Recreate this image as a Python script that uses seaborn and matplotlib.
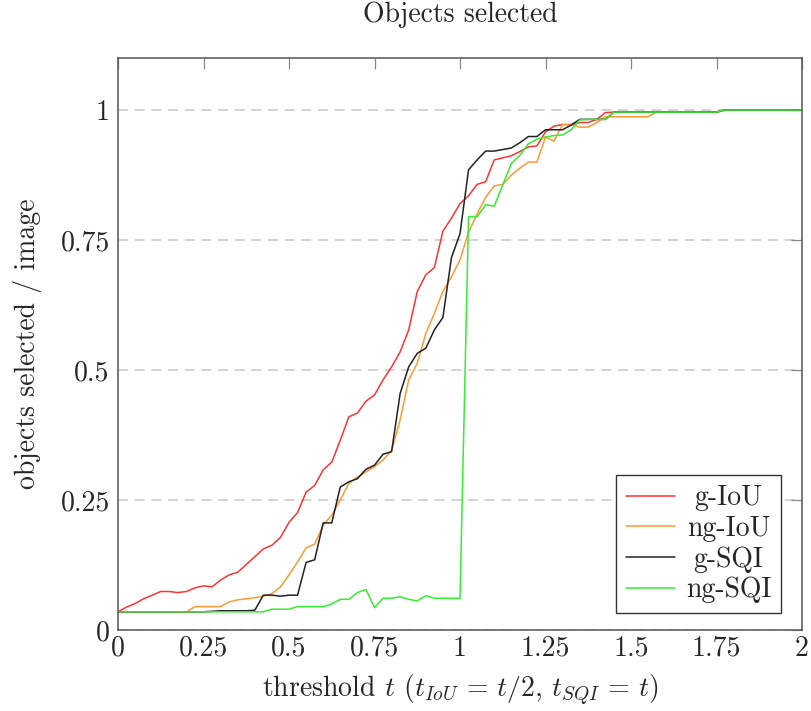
import numpy as np
import pandas as pd
import matplotlib
matplotlib.use("Agg")
import matplotlib.pyplot as plt
import seaborn as sns

# threshold grid (step 0.025, 0 .. 2)
thresholds = np.round(np.arange(81) * 0.025, 3)

g_iou = [0.035, 0.044, 0.051, 0.060, 0.067, 0.074, 0.074, 0.072, 0.074, 0.081,
         0.085, 0.083, 0.096, 0.106, 0.111, 0.126, 0.141, 0.156, 0.163, 0.178,
         0.207, 0.226, 0.265, 0.278, 0.308, 0.323, 0.365, 0.410, 0.417, 0.440,
         0.452, 0.481, 0.506, 0.535, 0.577, 0.651, 0.683, 0.697, 0.767, 0.792,
         0.820, 0.835, 0.857, 0.862, 0.904, 0.908, 0.912, 0.920, 0.929, 0.931,
         0.958, 0.969, 0.972, 0.972, 0.976, 0.976, 0.982, 0.995, 0.996, 0.996,
         0.996, 0.996, 0.996, 0.996, 0.996, 0.996, 0.996, 0.996, 0.996, 0.996,
         0.996, 1.0, 1.0, 1.0, 1.0, 1.0, 1.0, 1.0, 1.0, 1.0, 1.0]

ng_iou = [0.035, 0.035, 0.035, 0.035, 0.035, 0.035, 0.035, 0.035, 0.035, 0.045,
          0.045, 0.045, 0.045, 0.054, 0.058, 0.060, 0.062, 0.065, 0.070, 0.083,
          0.106, 0.131, 0.158, 0.165, 0.202, 0.221, 0.250, 0.282, 0.294, 0.304,
          0.314, 0.327, 0.345, 0.404, 0.481, 0.513, 0.570, 0.609, 0.651, 0.679,
          0.712, 0.765, 0.800, 0.832, 0.854, 0.857, 0.875, 0.888, 0.900, 0.900,
          0.948, 0.940, 0.972, 0.972, 0.967, 0.967, 0.976, 0.987, 0.987, 0.987,
          0.987, 0.987, 0.987, 0.996, 0.996, 0.996, 0.996, 0.996, 0.996, 0.996,
          0.996, 1.0, 1.0, 1.0, 1.0, 1.0, 1.0, 1.0, 1.0, 1.0, 1.0]

g_sqi = [0.035, 0.035, 0.035, 0.035, 0.035, 0.035, 0.035, 0.035, 0.035, 0.035,
         0.035, 0.036, 0.037, 0.037, 0.037, 0.037, 0.038, 0.067, 0.067, 0.065,
         0.067, 0.067, 0.130, 0.135, 0.206, 0.206, 0.275, 0.285, 0.291, 0.309,
         0.317, 0.338, 0.343, 0.455, 0.506, 0.532, 0.542, 0.577, 0.601, 0.716,
         0.762, 0.885, 0.904, 0.921, 0.921, 0.924, 0.927, 0.937, 0.949, 0.949,
         0.962, 0.962, 0.962, 0.971, 0.982, 0.982, 0.982, 0.982, 0.996, 0.996,
         0.996, 0.996, 0.996, 0.996, 0.996, 0.996, 0.996, 0.996, 0.996, 0.996,
         0.996, 1.0, 1.0, 1.0, 1.0, 1.0, 1.0, 1.0, 1.0, 1.0, 1.0]

ng_sqi = [0.035, 0.035, 0.035, 0.035, 0.035, 0.035, 0.035, 0.035, 0.035, 0.035,
          0.035, 0.035, 0.035, 0.035, 0.035, 0.035, 0.035, 0.035, 0.040, 0.040,
          0.040, 0.045, 0.045, 0.045, 0.045, 0.050, 0.059, 0.059, 0.072, 0.078,
          0.043, 0.061, 0.061, 0.064, 0.059, 0.056, 0.066, 0.061, 0.061, 0.061,
          0.061, 0.795, 0.795, 0.818, 0.815, 0.856, 0.897, 0.913, 0.935, 0.944,
          0.948, 0.951, 0.952, 0.962, 0.981, 0.982, 0.982, 0.982, 0.996, 0.996,
          0.996, 0.996, 0.996, 0.996, 0.996, 0.996, 0.996, 0.996, 0.996, 0.996,
          0.996, 1.0, 1.0, 1.0, 1.0, 1.0, 1.0, 1.0, 1.0, 1.0, 1.0]

series_names = ["g-IoU", "ng-IoU", "g-SQI", "ng-SQI"]
series_colors = ["#ff3333", "#ff9933", "#222222", "#33ee33"]

x_ticks = [0, 0.25, 0.5, 0.75, 1, 1.25, 1.5, 1.75, 2]
y_ticks = [0, 0.25, 0.5, 0.75, 1]

FS = 20

df = pd.concat([
    pd.DataFrame({"t": thresholds, "value": vals, "method": name})
    for name, vals in zip(series_names, [g_iou, ng_iou, g_sqi, ng_sqi])
])

sns.set_style("white")
plt.rcParams["font.family"] = ["cmr10", "DejaVu Serif"]
plt.rcParams["mathtext.fontset"] = "cm"
plt.rcParams["axes.formatter.use_mathtext"] = True

fig = plt.figure(figsize=(8.11, 7.11), dpi=100)
ax = fig.add_axes([118 / 811, 1 - 630 / 711, 684 / 811, 572 / 711])

sns.lineplot(data=df, x="t", y="value", hue="method", palette=series_colors,
             hue_order=series_names, linewidth=1.1, ax=ax, legend=True)

ax.set_xlim(0, 2)
ax.set_ylim(0, 1.1)
ax.set_xticks(x_ticks)
ax.set_xticklabels([f"{v:g}" for v in x_ticks])
ax.set_yticks(y_ticks)
ax.set_yticklabels([f"{v:g}" for v in y_ticks])
ax.tick_params(direction="in", length=8, width=0.9, color="#888888",
               labelsize=FS, top=True, right=True, pad=6)
ax.tick_params(axis="x", pad=4)
ax.yaxis.grid(True, color="#cccccc", linestyle=(0, (6, 4)), linewidth=1.2)
ax.xaxis.grid(False)
for s in ax.spines.values():
    s.set_color("#555555")
    s.set_linewidth(1.1)
ax.set_xlabel("")
ax.set_ylabel("")

leg = ax.legend(loc="lower right", bbox_to_anchor=(781 / 811, 1 - 613 / 711),
                bbox_transform=fig.transFigure, fontsize=FS, frameon=True,
                fancybox=False, handlelength=1.75, handletextpad=0.4,
                borderpad=0.35, labelspacing=0.15, borderaxespad=0,
                edgecolor="#333333")
leg.get_frame().set_linewidth(1.0)
leg.get_frame().set_alpha(1)

fig.text(460 / 811, 1 - 15 / 711, "Objects selected", ha="center",
         va="center", fontsize=FS)
fig.text(460 / 811, 1 - 690 / 711,
         r"threshold $t$ ($t_{IoU} \,=\, t/2$, $t_{SQI} \,=\, t$)",
         ha="center", va="center", fontsize=FS)
fig.text(28 / 811, 1 - 344 / 711, "objects selected / image", ha="center",
         va="center", rotation=90, fontsize=FS)

# centre the legend labels in their column, like the original
fig.canvas.draw()
renderer = fig.canvas.get_renderer()
texts = leg.get_texts()
widths = [t.get_window_extent(renderer).width for t in texts]
for t, w in zip(texts, widths):
    t.set_position(((max(widths) - w) / 2, 0))

fig.savefig("out.png", dpi=100)
